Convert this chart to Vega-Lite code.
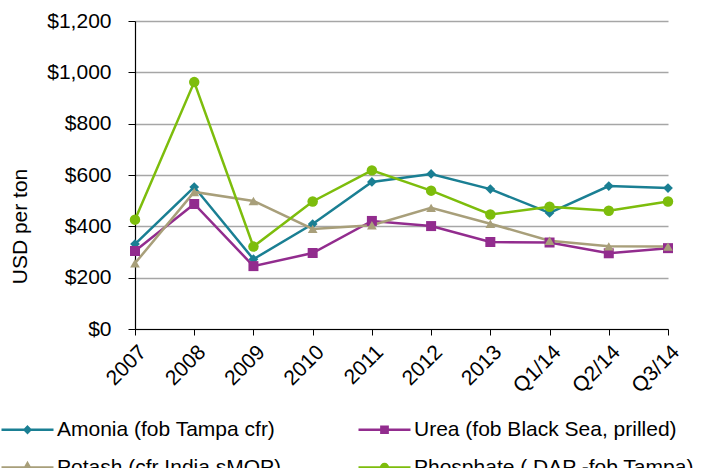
{
  "$schema": "https://vega.github.io/schema/vega-lite/v6.json",
  "autosize": {"type": "none"},
  "width": 533,
  "height": 308,
  "padding": {"left": 135, "top": 21, "right": 37, "bottom": 139},
  "background": "white",
  "config": {
    "view": {"stroke": null},
    "font": "Liberation Sans",
    "axis": {"labelFont": "Liberation Sans", "titleFont": "Liberation Sans", "labelFontSize": 21, "titleFontSize": 21, "labelColor": "#000000", "titleColor": "#000000", "titleFontWeight": "normal"},
    "legend": {"labelFont": "Liberation Sans", "labelFontSize": 21, "labelColor": "#000000"}
  },
  "data": {
    "values": [
      {"period": "2007", "series": "Amonia (fob Tampa cfr)", "price": 331},
      {"period": "2008", "series": "Amonia (fob Tampa cfr)", "price": 553},
      {"period": "2009", "series": "Amonia (fob Tampa cfr)", "price": 272},
      {"period": "2010", "series": "Amonia (fob Tampa cfr)", "price": 409},
      {"period": "2011", "series": "Amonia (fob Tampa cfr)", "price": 573},
      {"period": "2012", "series": "Amonia (fob Tampa cfr)", "price": 604},
      {"period": "2013", "series": "Amonia (fob Tampa cfr)", "price": 545},
      {"period": "Q1/14", "series": "Amonia (fob Tampa cfr)", "price": 452},
      {"period": "Q2/14", "series": "Amonia (fob Tampa cfr)", "price": 557},
      {"period": "Q3/14", "series": "Amonia (fob Tampa cfr)", "price": 549},
      {"period": "2007", "series": "Urea (fob Black Sea, prilled)", "price": 304},
      {"period": "2008", "series": "Urea (fob Black Sea, prilled)", "price": 487},
      {"period": "2009", "series": "Urea (fob Black Sea, prilled)", "price": 245},
      {"period": "2010", "series": "Urea (fob Black Sea, prilled)", "price": 296},
      {"period": "2011", "series": "Urea (fob Black Sea, prilled)", "price": 421},
      {"period": "2012", "series": "Urea (fob Black Sea, prilled)", "price": 401},
      {"period": "2013", "series": "Urea (fob Black Sea, prilled)", "price": 339},
      {"period": "Q1/14", "series": "Urea (fob Black Sea, prilled)", "price": 337},
      {"period": "Q2/14", "series": "Urea (fob Black Sea, prilled)", "price": 295},
      {"period": "Q3/14", "series": "Urea (fob Black Sea, prilled)", "price": 315},
      {"period": "2007", "series": "Potash (cfr India sMOP)", "price": 256},
      {"period": "2008", "series": "Potash (cfr India sMOP)", "price": 534},
      {"period": "2009", "series": "Potash (cfr India sMOP)", "price": 499},
      {"period": "2010", "series": "Potash (cfr India sMOP)", "price": 390},
      {"period": "2011", "series": "Potash (cfr India sMOP)", "price": 404},
      {"period": "2012", "series": "Potash (cfr India sMOP)", "price": 472},
      {"period": "2013", "series": "Potash (cfr India sMOP)", "price": 410},
      {"period": "Q1/14", "series": "Potash (cfr India sMOP)", "price": 344},
      {"period": "Q2/14", "series": "Potash (cfr India sMOP)", "price": 322},
      {"period": "Q3/14", "series": "Potash (cfr India sMOP)", "price": 321},
      {"period": "2007", "series": "Phosphate ( DAP -fob Tampa)", "price": 426},
      {"period": "2008", "series": "Phosphate ( DAP -fob Tampa)", "price": 962},
      {"period": "2009", "series": "Phosphate ( DAP -fob Tampa)", "price": 321},
      {"period": "2010", "series": "Phosphate ( DAP -fob Tampa)", "price": 497},
      {"period": "2011", "series": "Phosphate ( DAP -fob Tampa)", "price": 618},
      {"period": "2012", "series": "Phosphate ( DAP -fob Tampa)", "price": 539},
      {"period": "2013", "series": "Phosphate ( DAP -fob Tampa)", "price": 446},
      {"period": "Q1/14", "series": "Phosphate ( DAP -fob Tampa)", "price": 476},
      {"period": "Q2/14", "series": "Phosphate ( DAP -fob Tampa)", "price": 461},
      {"period": "Q3/14", "series": "Phosphate ( DAP -fob Tampa)", "price": 497}
    ]
  },
  "encoding": {
    "x": {
      "field": "period", "type": "nominal", "sort": null,
      "scale": {"type": "point", "padding": 0},
      "axis": {"title": null, "labelAngle": -45, "labelAlign": "right", "labelBaseline": "top", "labelPadding": 6, "domainColor": "#000000", "domainWidth": 1.2, "tickColor": "#000000", "tickSize": 6, "grid": false}
    },
    "y": {
      "field": "price", "type": "quantitative",
      "scale": {"domain": [0, 1200], "nice": false},
      "axis": {"title": "USD per ton", "values": [0, 200, 400, 600, 800, 1000, 1200], "format": "$,.0f", "labelPadding": 17, "tickSize": 7, "tickColor": "#000000", "domainColor": "#000000", "domainWidth": 1.2, "grid": true, "gridColor": "#a6a6a6", "gridWidth": 1.3, "titleX": -115, "titleY": 205, "titleAngle": -90, "titleAlign": "center", "titleBaseline": "middle"}
    }
  },
  "layer": [
    {
      "mark": {"type": "line", "strokeWidth": 2.5},
      "encoding": {
        "color": {
          "field": "series", "type": "nominal",
          "scale": {
            "domain": ["Amonia (fob Tampa cfr)", "Urea (fob Black Sea, prilled)", "Potash (cfr India sMOP)", "Phosphate ( DAP -fob Tampa)"],
            "range": ["#1A7F93", "#922C8E", "#A89F7A", "#7DBD0C"]
          },
          "legend": {
            "title": null, "orient": "none", "legendX": -135, "legendY": 381,
            "columns": 2, "direction": "horizontal", "columnPadding": 71, "rowPadding": -19,
            "symbolType": "M-1,0L1,0", "symbolSize": 2704, "labelOffset": 2, "labelLimit": 400,
            "encode": {
              "symbols": {
                "update": {
                  "shape": {"signal": "datum.index == 0 ? 'M-1,0L1,0M0,-0.11L0.11,0L0,0.11L-0.11,0Z' : datum.index == 1 ? 'M-1,0L1,0M-0.12,-0.12L0.12,-0.12L0.12,0.12L-0.12,0.12Z' : datum.index == 2 ? 'M-1,0L1,0M0,-0.16L0.15,0.1L-0.15,0.1Z' : 'M-1,0L1,0M-0.13,0A0.13,0.13,0,1,1,0.13,0A0.13,0.13,0,1,1,-0.13,0Z'"},
                  "fill": {"signal": "scale('color', datum.value)"},
                  "stroke": {"signal": "scale('color', datum.value)"},
                  "strokeWidth": {"value": 2.5}
                }
              }
            }
          }
        }
      }
    },
    {
      "transform": [{"filter": "datum.series === 'Amonia (fob Tampa cfr)'"}],
      "mark": {"type": "point", "shape": "diamond", "filled": true, "opacity": 1, "size": 95},
      "encoding": {"color": {"field": "series", "type": "nominal", "legend": null}}
    },
    {
      "transform": [{"filter": "datum.series === 'Urea (fob Black Sea, prilled)'"}],
      "mark": {"type": "point", "shape": "square", "filled": true, "opacity": 1, "size": 100},
      "encoding": {"color": {"field": "series", "type": "nominal", "legend": null}}
    },
    {
      "transform": [{"filter": "datum.series === 'Potash (cfr India sMOP)'"}],
      "mark": {"type": "point", "shape": "triangle-up", "filled": true, "opacity": 1, "size": 95},
      "encoding": {"color": {"field": "series", "type": "nominal", "legend": null}}
    },
    {
      "transform": [{"filter": "datum.series === 'Phosphate ( DAP -fob Tampa)'"}],
      "mark": {"type": "point", "shape": "circle", "filled": true, "opacity": 1, "size": 110},
      "encoding": {"color": {"field": "series", "type": "nominal", "legend": null}}
    }
  ]
}
